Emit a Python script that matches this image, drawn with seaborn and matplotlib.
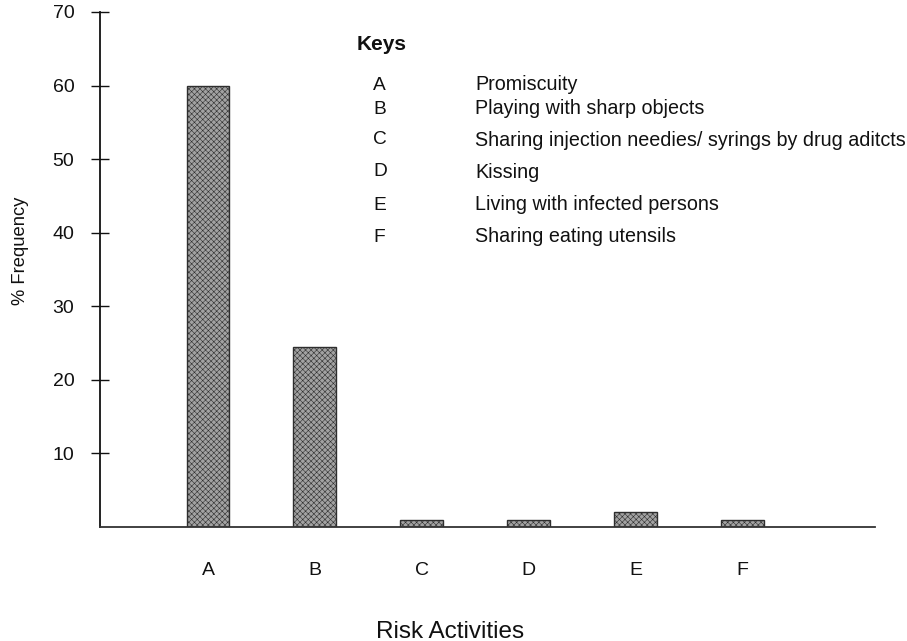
import matplotlib
matplotlib.use("Agg")
import matplotlib.pyplot as plt
import seaborn as sns
import pandas as pd

categories = ["A", "B", "C", "D", "E", "F"]
frequency = [60.0, 24.5, 1.0, 1.0, 2.0, 1.0]
descriptions = [
    "Promiscuity",
    "Playing with sharp objects",
    "Sharing injection needies/ syrings by drug aditcts",
    "Kissing",
    "Living with infected persons",
    "Sharing eating utensils",
]
y_ticks = [10, 20, 30, 40, 50, 60, 70]

sns.set_style("ticks")
plt.rcParams["font.family"] = ["Liberation Sans", "DejaVu Sans"]
plt.rcParams["hatch.linewidth"] = 0.4

W, H = 907, 641
fig = plt.figure(figsize=(W / 100, H / 100), dpi=100)
ax = fig.add_axes([100 / W, 1 - 527 / H, 775 / W, (527 - 12) / H])

df = pd.DataFrame({"cat": categories, "freq": frequency})
sns.barplot(data=df, x="cat", y="freq", ax=ax, width=0.40,
            color="#a2a2a2", edgecolor="#2e2e2e", linewidth=1.0,
            hatch="xxxxxx", saturation=1)

ax.set_ylim(0, 70)
ax.set_xlim(-1.01, 6.24)
ax.set_yticks(y_ticks)
ax.set_yticklabels([str(t) for t in y_ticks], fontsize=14)
ax.tick_params(axis="y", direction="inout", length=13, width=1.0, pad=12, colors="#111111")
ax.tick_params(axis="x", length=0, pad=25, labelsize=14, colors="#111111")

sns.despine(ax=ax, top=True, right=True)
ax.spines["left"].set_linewidth(1.3)
ax.spines["left"].set_color("#111111")
ax.spines["bottom"].set_linewidth(1.3)
ax.spines["bottom"].set_color("#333333")

ax.set_ylabel("% Frequency", fontsize=13.2, color="#111111")
ax.yaxis.set_label_coords(-0.091, 0.536)
ax.set_xlabel("Risk Activities", fontsize=17.5, color="#111111", va="top")
ax.xaxis.set_label_coords(0.452, -0.182)

# Key block (positions in pixels of the figure)
row_px = [85, 109, 140, 172, 205, 237]
fig.text(357 / W, 1 - 44 / H, "Keys", fontsize=15, fontweight="bold",
         ha="left", va="center", color="#111111")
for c, d, ypx in zip(categories, descriptions, row_px):
    yy = 1 - ypx / H
    fig.text(373 / W, yy, c, fontsize=13.8, ha="left", va="center", color="#111111")
    fig.text(475 / W, yy, d, fontsize=14.2, ha="left", va="center", color="#111111")

fig.savefig("out.png", dpi=100, facecolor="white")
